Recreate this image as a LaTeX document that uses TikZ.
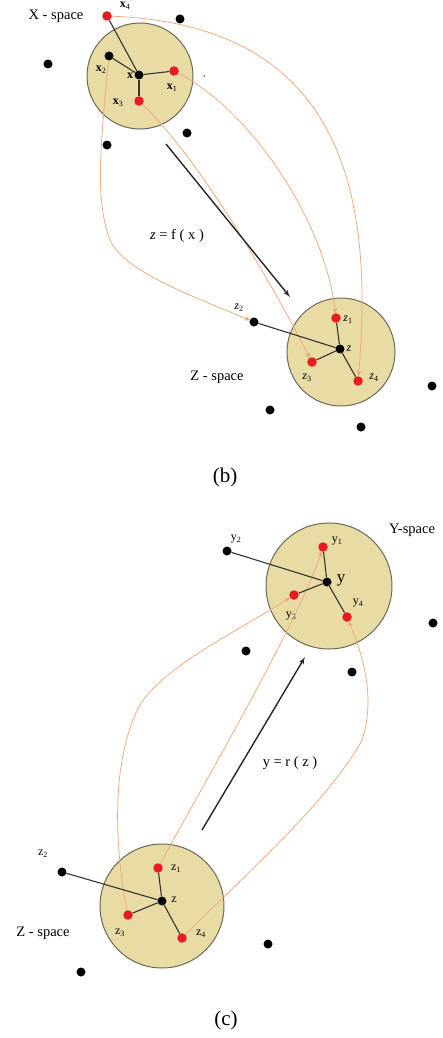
\documentclass[tikz,border=0pt]{standalone}
\usepackage{fontspec}
\setmainfont{Liberation Serif}
\usetikzlibrary{shapes, arrows, positioning}
\definecolor{spacefill}{RGB}{233,219,164}
\definecolor{spaceline}{RGB}{105,105,88}
\definecolor{maporange}{RGB}{240,168,122}
\definecolor{ptred}{RGB}{232,28,32}

\begin{document}
\begin{tikzpicture}[x=1pt,y=-1pt]
            \tikzset{space/.style = {circle, draw=spaceline, line width=1pt, fill=spacefill, inner sep=0pt},
                     redpt/.style = {circle, fill=ptred, inner sep=0pt, minimum size=9.5pt},
                     blkpt/.style = {circle, fill=black, inner sep=0pt, minimum size=9pt},
                     spoke/.style = {-, line width=1.1pt, draw=black!80},
                     map/.style = {->, > = stealth', draw=maporange, line width=0.75pt},
                     edge/.style = {->, > = latex', line width=1.4pt, draw=black!85},
                     lab/.style = {font=\fontsize{12}{14}\selectfont, inner sep=0pt},
                     title/.style = {font=\fontsize{14.5}{17}\selectfont, inner sep=0pt}}
            \useasboundingbox (0,0) rectangle (442,1038);
            % (b) spaces
            \node[space, minimum size=106pt] (xs) at (140,76) {};
            \node[space, minimum size=108pt] (zs) at (341,352) {};
            % (b) vertices
            \node[blkpt] (x0) at (139,75) {};
            \node[redpt] (x1) at (174,71) {};
            \node[blkpt] (x2) at (109,56) {};
            \node[redpt] (x3) at (139,101) {};
            \node[redpt] (x4) at (107,16) {};
            \node[blkpt] (z0) at (340,349) {};
            \node[redpt] (z1) at (336,318) {};
            \node[blkpt] (z2) at (254,322) {};
            \node[redpt] (z3) at (312,362) {};
            \node[redpt] (z4) at (358,381) {};
            \node[blkpt] (b1) at (180,19) {};
            \node[blkpt] (b2) at (48,64) {};
            \node[blkpt] (b3) at (187,133) {};
            \node[blkpt] (b4) at (107,145) {};
            \node[blkpt, minimum size=1.5pt] (b5) at (204,76) {};
            \node[blkpt] (b6) at (432,386) {};
            \node[blkpt] (b7) at (270,410) {};
            \node[blkpt] (b8) at (361,427) {};
            % (b) texts
            \node[title] (xst) at (56,16) {X - space};
            \node[lab] (x0t) at (130,76) {\textbf{x}};
            \node[lab] (x1t) at (172,88) {\textbf{x}\textsubscript{1}};
            \node[lab] (x2t) at (101,70) {\textbf{x}\textsubscript{2}};
            \node[lab] (x3t) at (118,103) {\textbf{x}\textsubscript{3}};
            \node[lab] (x4t) at (125,6) {\textbf{x}\textsubscript{4}};
            \node[title] (zst) at (217,377) {Z - space};
            \node[lab] (z0t) at (349,349) {\textit{z}};
            \node[lab] (z1t) at (348,320) {\textit{z}\textsubscript{1}};
            \node[lab] (z2t) at (239,308) {\textit{z}\textsubscript{2}};
            \node[lab] (z3t) at (307,378) {\textit{z}\textsubscript{3}};
            \node[lab] (z4t) at (374,378) {\textit{z}\textsubscript{4}};
            \node[title] (ft) at (177,236) {\textit{z} = f ( x )};
            \node[font=\fontsize{21}{24}\selectfont] (bt) at (225,477) {(b)};
            \coordinate (fa) at (166,144);
            \coordinate (fb) at (290,297);
            % (b) edges
            \draw[map] (x4) .. controls (340,25) and (375,190) .. (z4);
            \draw[map] (x1) .. controls (250,110) and (325,220) .. (z1);
            \draw[map] (x3) .. controls (200,160) and (270,280) .. (z3);
            \draw[map] (x2) .. controls (100,150) and (95,200) .. (110,240)
                            .. controls (125,272) and (190,295) .. (z2);
            \draw[spoke] (x0) to (x1);
            \draw[spoke] (x0) to (x2);
            \draw[spoke] (x0) to (x3);
            \draw[spoke] (x0) to (x4);
            \draw[spoke] (z0) to (z1);
            \draw[spoke] (z0) to (z2);
            \draw[spoke] (z0) to (z3);
            \draw[spoke] (z0) to (z4);
            \draw[edge] (fa) to (fb);
            % (c) spaces
            \node[space, minimum size=126pt] (ys) at (329,586) {};
            \node[space, minimum size=124pt] (ws) at (162,906) {};
            % (c) vertices
            \node[blkpt] (y0) at (327,582) {};
            \node[redpt] (y1) at (323,547) {};
            \node[blkpt] (y2) at (227,551) {};
            \node[redpt] (y3) at (294,595) {};
            \node[redpt] (y4) at (347,617) {};
            \node[blkpt] (w0) at (162,901) {};
            \node[redpt] (w1) at (158,868) {};
            \node[blkpt] (w2) at (62,872) {};
            \node[redpt] (w3) at (128,915) {};
            \node[redpt] (w4) at (182,938) {};
            \node[blkpt] (c1) at (433,623) {};
            \node[blkpt] (c2) at (246,651) {};
            \node[blkpt] (c3) at (352,672) {};
            \node[blkpt] (c4) at (81,972) {};
            \node[blkpt] (c5) at (268,944) {};
            % (c) texts
            \node[title] (yst) at (412,530) {Y-space};
            \node[font=\fontsize{17}{20}\selectfont, inner sep=0pt] (y0t) at (341,580) {y};
            \node[lab] (y1t) at (337,541) {y\textsubscript{1}};
            \node[lab] (y2t) at (236,539) {y\textsubscript{2}};
            \node[lab] (y3t) at (291,616) {y\textsubscript{3}};
            \node[lab] (y4t) at (358,603) {y\textsubscript{4}};
            \node[title] (wst) at (43,933) {Z - space};
            \node[lab] (w0t) at (174,900) {z};
            \node[lab] (w1t) at (176,869) {z\textsubscript{1}};
            \node[lab] (w2t) at (43,854) {z\textsubscript{2}};
            \node[lab] (w3t) at (120,933) {z\textsubscript{3}};
            \node[lab] (w4t) at (201,934) {z\textsubscript{4}};
            \node[title] (rt) at (290,763) {y = r ( z )};
            \node[font=\fontsize{21}{24}\selectfont] (ct) at (226,1020) {(c)};
            \coordinate (ra) at (202,830);
            \coordinate (rb) at (305,657);
            % (c) edges
            \draw[map] (w3) .. controls (115,850) and (110,760) .. (140,705)
                            .. controls (165,665) and (240,630) .. (y3);
            \draw[map] (w1) .. controls (200,790) and (300,620) .. (y1);
            \draw[map] (w4) .. controls (240,880) and (330,800) .. (362,740)
                            .. controls (375,700) and (365,660) .. (y4);
            \draw[spoke] (y0) to (y1);
            \draw[spoke] (y0) to (y2);
            \draw[spoke] (y0) to (y3);
            \draw[spoke] (y0) to (y4);
            \draw[spoke] (w0) to (w1);
            \draw[spoke] (w0) to (w2);
            \draw[spoke] (w0) to (w3);
            \draw[spoke] (w0) to (w4);
            \draw[edge] (ra) to (rb);
        \end{tikzpicture}
\end{document}
